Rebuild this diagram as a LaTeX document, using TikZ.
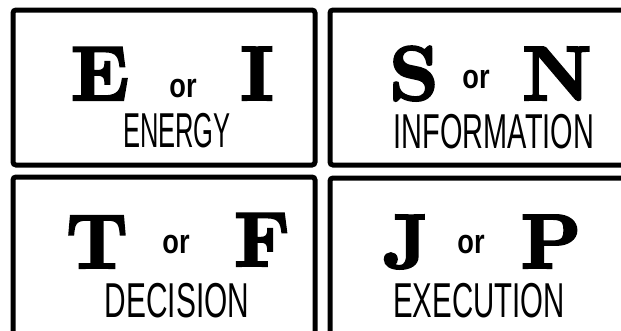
\documentclass[tikz,border=0pt]{standalone}
\usepackage{fontspec}
\usepackage{graphicx}
\newfontfamily\fatface{lmroman10-bold}[Extension=.otf, FakeBold=3]
\newfontfamily\narrowsans{Liberation Sans}
\newcommand{\squeeze}[2]{\scalebox{#1}[1]{#2}}
\begin{document}
\begin{tikzpicture}[x=1pt, y=-1pt,
	box/.style={line width=5pt, rounded corners=3pt},
	bigletter/.style={anchor=base, inner sep=0pt, font=\fontsize{77}{77}\fatface},
	orword/.style={anchor=base, inner sep=0pt, font=\fontsize{34}{34}\narrowsans\bfseries},
	label/.style={anchor=base, inner sep=0pt, font=\fontsize{49}{49}\narrowsans}]
	\useasboundingbox (0,0) rectangle (621,330);
	\clip (0,0) rectangle (621,330);
	\fill[white] (0,0) rectangle (621,330);
	% four boxes
	\draw[box] (13,10) rectangle (315,165);
	\draw[box] (330,10) rectangle (660,165);
	\draw[box] (13,177) rectangle (315,345);
	\draw[box] (330,178) rectangle (660,345);
	% energy
	\node[bigletter] (e) at (100,100) {E};
	\node[orword] (or1) at (183,97) {\squeeze{0.8}{or}};
	\node[bigletter] (i) at (257,100) {I};
	\node[label] (energy) at (177,147) {\squeeze{0.52}{ENERGY}};
	% information
	\node[bigletter] (s) at (414,100) {S};
	\node[orword] (or2) at (476,88) {\squeeze{0.8}{or}};
	\node[bigletter] (n) at (557,100) {N};
	\node[label] (information) at (494,148) {\squeeze{0.59}{INFORMATION}};
	% decision
	\node[bigletter] (t) at (97,268) {T};
	\node[orword] (or3) at (176,253) {\squeeze{0.8}{or}};
	\node[bigletter] (f) at (262,266) {F};
	\node[label] (decision) at (177,317) {\squeeze{0.61}{DECISION}};
	% execution
	\node[bigletter] (j) at (406,268) {J};
	\node[orword] (or4) at (471,253) {\squeeze{0.8}{or}};
	\node[bigletter] (p) at (551,268) {P};
	\node[label] (execution) at (479,317) {\squeeze{0.6}{EXECUTION}};
\end{tikzpicture}
\end{document}
